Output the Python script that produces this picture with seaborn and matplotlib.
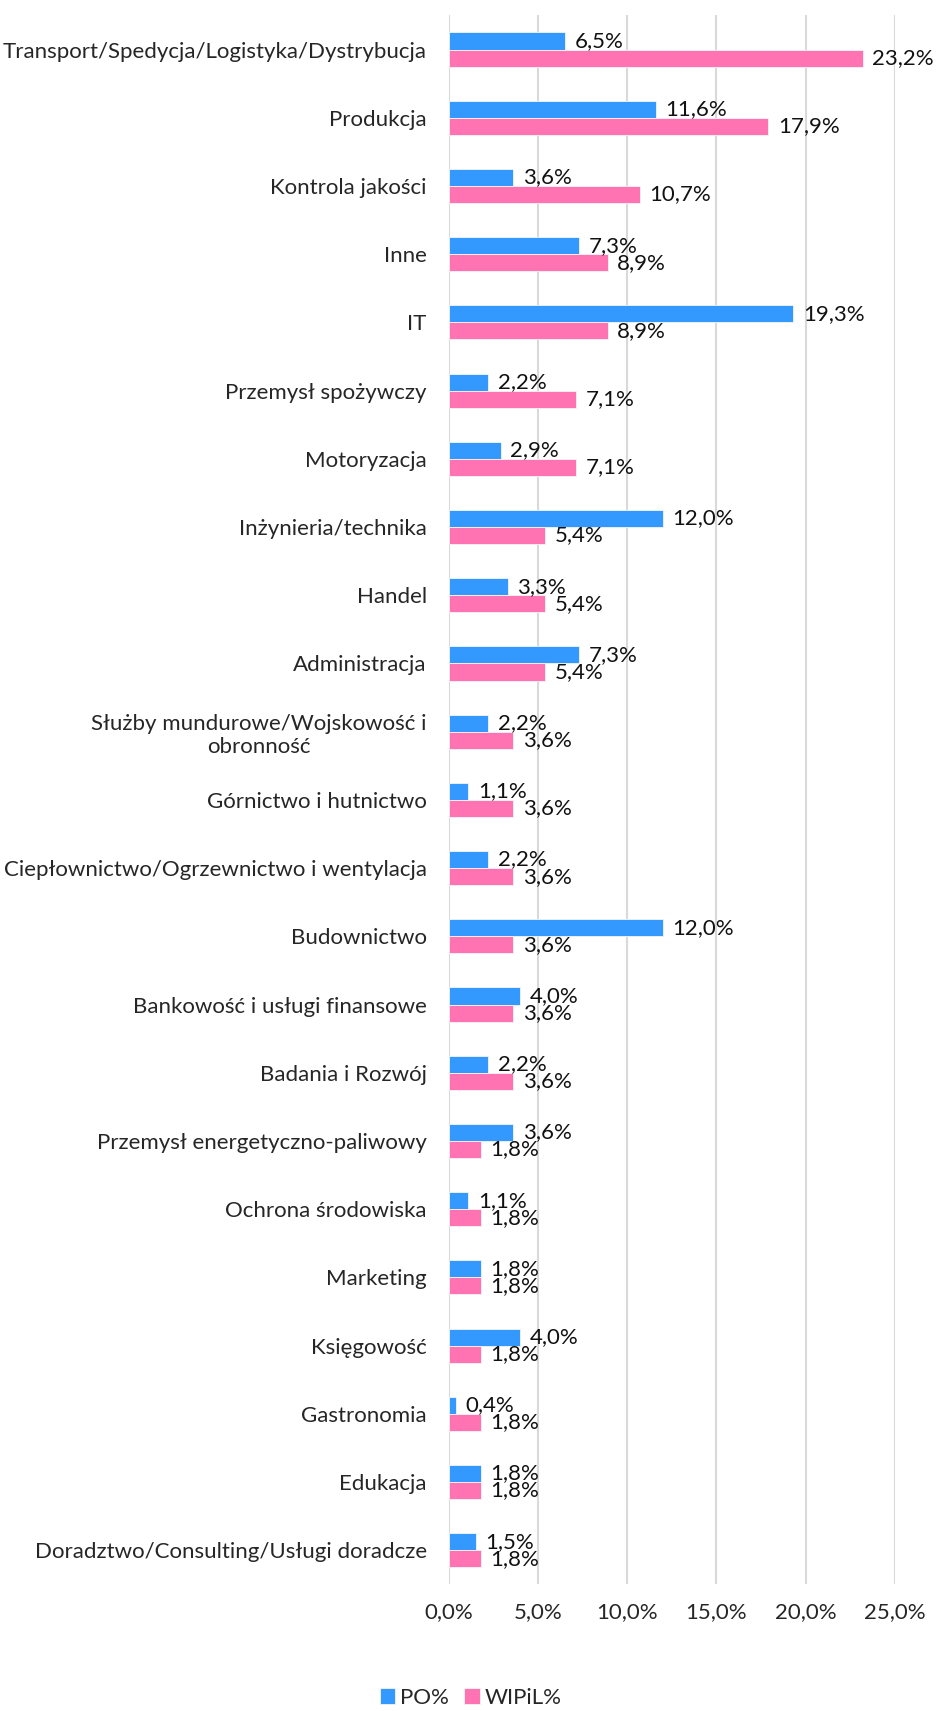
import matplotlib.pyplot as plt
import pandas as pd
import seaborn as sns

# dane (w %)
categories = [
    "Transport/Spedycja/Logistyka/Dystrybucja",
    "Produkcja",
    "Kontrola jakości",
    "Inne",
    "IT",
    "Przemysł spożywczy",
    "Motoryzacja",
    "Inżynieria/technika",
    "Handel",
    "Administracja",
    "Służby mundurowe/Wojskowość i\nobronność",
    "Górnictwo i hutnictwo",
    "Ciepłownictwo/Ogrzewnictwo i wentylacja",
    "Budownictwo",
    "Bankowość i usługi finansowe",
    "Badania i Rozwój",
    "Przemysł energetyczno-paliwowy",
    "Ochrona środowiska",
    "Marketing",
    "Księgowość",
    "Gastronomia",
    "Edukacja",
    "Doradztwo/Consulting/Usługi doradcze",
]
po_values = [6.5, 11.6, 3.6, 7.3, 19.3, 2.2, 2.9, 12.0, 3.3, 7.3, 2.2, 1.1,
             2.2, 12.0, 4.0, 2.2, 3.6, 1.1, 1.8, 4.0, 0.4, 1.8, 1.5]
wipil_values = [23.2, 17.9, 10.7, 8.9, 8.9, 7.1, 7.1, 5.4, 5.4, 5.4, 3.6, 3.6,
                3.6, 3.6, 3.6, 3.6, 1.8, 1.8, 1.8, 1.8, 1.8, 1.8, 1.8]
series_names = ["PO%", "WIPiL%"]
x_ticks = [0, 5, 10, 15, 20, 25]

df = pd.DataFrame({"kategoria": categories, series_names[0]: po_values,
                   series_names[1]: wipil_values})
df_long = df.melt(id_vars="kategoria", var_name="seria", value_name="wartosc")

sns.set_style("white")
plt.rcParams["font.family"] = ["Lato", "DejaVu Sans"]
FS = 16

fig = plt.figure(figsize=(9.41, 17.11), dpi=100)
ax = fig.add_axes([0.477, 0.074, 0.474, 0.917])

sns.barplot(data=df_long, y="kategoria", x="wartosc", hue="seria",
            order=categories, hue_order=series_names,
            palette=["#3399FF", "#FF73B3"], saturation=1, width=0.5, orient="h",
            edgecolor="#F5F5F5", linewidth=0.6, ax=ax, legend=True)

# etykiety danych z przecinkiem dziesiętnym
for cont in ax.containers:
    ax.bar_label(cont, labels=[f"{v:.1f}".replace(".", ",") + "%" for v in cont.datavalues],
                 padding=7, fontsize=FS, color="#111111")

ax.set_xlim(0, 25)
ax.set_xticks(x_ticks)
ax.set_xticklabels([f"{t:.1f}".replace(".", ",") + "%" for t in x_ticks], fontsize=FS)
ax.tick_params(axis="x", length=0, pad=13)
ax.tick_params(axis="y", length=0, pad=16, labelsize=FS)
for lab in ax.get_yticklabels():
    lab.set_multialignment("center")
ax.set_xlabel("")
ax.set_ylabel("")
ax.grid(axis="x", color="#D9D9D9", linewidth=1.5)
ax.set_axisbelow(True)
for s in ax.spines.values():
    s.set_visible(False)

handles, labels = ax.get_legend_handles_labels()
ax.get_legend().remove()
fig.legend(handles, labels, loc="lower center", bbox_to_anchor=(0.5, -0.006), ncol=2,
           frameon=False, fontsize=FS, handlelength=0.7, handleheight=0.7,
           handletextpad=0.2, columnspacing=0.7, borderaxespad=0.2)

fig.savefig("out.png", dpi=100)
